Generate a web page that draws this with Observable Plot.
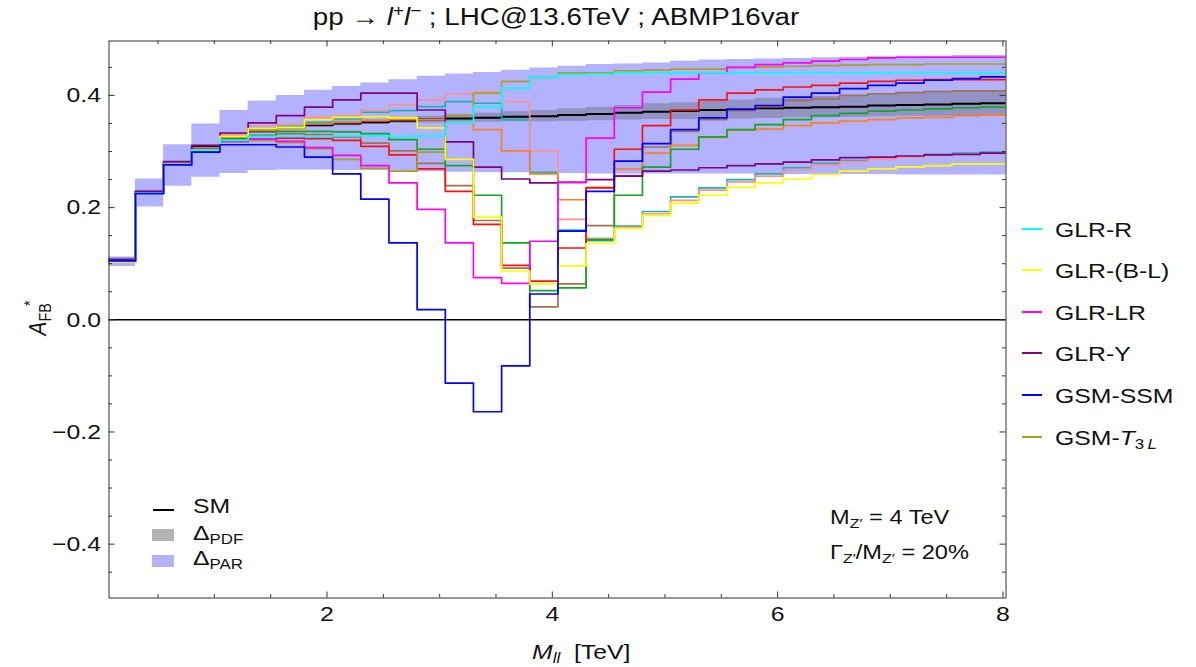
<!DOCTYPE html>
<html><head><meta charset="utf-8">
<script src="https://cdn.jsdelivr.net/npm/d3@7"></script>
<script src="https://cdn.jsdelivr.net/npm/@observablehq/plot@0.6"></script>
<style>
body{margin:0;background:#fff;}
#wrap{position:relative;width:1196px;height:667px;overflow:hidden;font-family:"Liberation Sans",Arial,sans-serif;color:#111;}
#wrap svg{position:absolute;left:0;top:0;}
.t{position:absolute;white-space:nowrap;line-height:1;font-size:21px;transform-origin:0 50%;transform:translateY(-50%) scaleX(1.18);}
.c{transform-origin:50% 50%;transform:translate(-50%,-50%) scaleX(1.18);}
.t sub{font-size:0.68em;vertical-align:-0.3em;line-height:0;}
.t sup{font-size:0.68em;vertical-align:0.55em;line-height:0;}
.sw{position:absolute;}
</style></head><body><div id="wrap"></div>
<script>
// ---- data ----
const binEdges = [0.05,0.30,0.55,0.80,1.05,1.30,1.55,1.80,2.05,2.30,2.55,2.80,3.05,3.30,3.55,3.80,4.05,4.30,4.55,4.80,5.05,5.30,5.55,5.80,6.05,6.30,6.55,6.80,7.05,7.30,7.55,7.80,8.05];
const sm      = [0.107,0.228,0.279,0.308,0.325,0.336,0.342,0.347,0.350,0.352,0.355,0.357,0.359,0.360,0.362,0.363,0.365,0.367,0.369,0.371,0.372,0.374,0.375,0.377,0.378,0.379,0.380,0.382,0.383,0.384,0.385,0.386];
const pdfHigh = [0.110,0.231,0.282,0.311,0.328,0.339,0.345,0.350,0.354,0.356,0.360,0.363,0.366,0.368,0.371,0.373,0.376,0.379,0.382,0.385,0.387,0.390,0.392,0.395,0.396,0.398,0.399,0.402,0.403,0.405,0.406,0.408];
const pdfLow  = [0.104,0.225,0.276,0.305,0.322,0.333,0.339,0.344,0.346,0.348,0.350,0.351,0.352,0.352,0.353,0.353,0.354,0.355,0.356,0.357,0.357,0.358,0.358,0.359,0.360,0.360,0.361,0.362,0.363,0.363,0.364,0.364];
const parHigh = [0.112,0.251,0.312,0.349,0.373,0.390,0.400,0.409,0.416,0.422,0.428,0.434,0.438,0.441,0.445,0.449,0.452,0.455,0.456,0.458,0.461,0.463,0.464,0.465,0.466,0.467,0.468,0.469,0.470,0.470,0.471,0.471];
const parLow  = [0.095,0.201,0.238,0.254,0.261,0.266,0.267,0.267,0.266,0.266,0.265,0.264,0.263,0.262,0.262,0.261,0.261,0.260,0.260,0.260,0.260,0.260,0.260,0.260,0.259,0.259,0.259,0.259,0.258,0.258,0.258,0.258];

const glrR   = [0.105,0.226,0.277,0.303,0.320,0.327,0.327,0.327,0.328,0.328,0.327,0.328,0.352,0.379,0.413,0.432,0.437,0.438,0.440,0.440,0.440,0.440,0.440,0.440,0.440,0.440,0.440,0.440,0.440,0.440,0.440,0.440];
const glrBL  = [0.103,0.225,0.277,0.303,0.327,0.341,0.343,0.357,0.361,0.362,0.360,0.342,0.286,0.183,0.087,0.064,0.096,0.136,0.163,0.186,0.208,0.222,0.236,0.244,0.251,0.259,0.265,0.269,0.272,0.275,0.278,0.278];
const glrLR  = [0.104,0.226,0.277,0.302,0.318,0.322,0.318,0.307,0.293,0.275,0.244,0.197,0.137,0.075,0.065,0.140,0.245,0.324,0.378,0.406,0.429,0.440,0.450,0.455,0.458,0.461,0.464,0.467,0.468,0.468,0.468,0.468];
const glrY   = [0.107,0.229,0.282,0.311,0.333,0.351,0.364,0.379,0.392,0.404,0.404,0.374,0.317,0.272,0.251,0.244,0.245,0.250,0.256,0.265,0.267,0.271,0.275,0.278,0.281,0.285,0.289,0.290,0.292,0.294,0.295,0.297];
const gsmSSM = [0.105,0.225,0.276,0.299,0.312,0.312,0.308,0.290,0.260,0.215,0.137,0.018,-0.113,-0.164,-0.082,0.046,0.158,0.229,0.283,0.314,0.339,0.360,0.375,0.382,0.397,0.404,0.412,0.418,0.422,0.427,0.430,0.433];
const gsmT3L = [0.103,0.225,0.276,0.300,0.317,0.320,0.316,0.305,0.286,0.270,0.265,0.299,0.364,0.404,0.425,0.432,0.440,0.440,0.444,0.445,0.447,0.447,0.450,0.451,0.452,0.453,0.454,0.455,0.455,0.456,0.456,0.456];
const redS   = [0.105,0.226,0.278,0.304,0.318,0.322,0.324,0.323,0.320,0.309,0.294,0.269,0.229,0.170,0.097,0.069,0.128,0.235,0.304,0.346,0.374,0.392,0.404,0.410,0.415,0.418,0.422,0.425,0.427,0.428,0.428,0.428];
const greenS = [0.105,0.226,0.278,0.304,0.323,0.329,0.336,0.336,0.335,0.332,0.321,0.304,0.275,0.222,0.137,0.052,0.057,0.143,0.222,0.272,0.304,0.326,0.339,0.348,0.357,0.364,0.368,0.372,0.374,0.376,0.378,0.379];
const orangeS= [0.106,0.227,0.279,0.306,0.326,0.337,0.341,0.349,0.352,0.355,0.357,0.357,0.352,0.339,0.301,0.260,0.214,0.236,0.269,0.297,0.311,0.325,0.338,0.340,0.346,0.351,0.354,0.357,0.360,0.361,0.364,0.365];
const brownS = [0.105,0.226,0.278,0.304,0.320,0.328,0.332,0.330,0.326,0.315,0.301,0.279,0.239,0.177,0.092,0.023,0.064,0.168,0.257,0.308,0.336,0.357,0.373,0.380,0.391,0.394,0.400,0.403,0.405,0.407,0.408,0.408];
const salmonS= [0.106,0.227,0.279,0.306,0.330,0.345,0.349,0.361,0.364,0.374,0.383,0.392,0.403,0.406,0.389,0.301,0.179,0.145,0.165,0.189,0.213,0.231,0.246,0.256,0.267,0.276,0.282,0.287,0.290,0.293,0.295,0.296];
const tealS  = [0.106,0.227,0.279,0.305,0.325,0.340,0.345,0.352,0.358,0.370,0.373,0.380,0.389,0.386,0.357,0.263,0.160,0.141,0.167,0.193,0.219,0.235,0.250,0.260,0.271,0.279,0.284,0.288,0.291,0.295,0.297,0.299];

const legendNames  = ["GLR-R","GLR-(B-L)","GLR-LR","GLR-Y","GSM-SSM","GSM-T3L"];
const legendHtml   = ["GLR-R","GLR-(B-L)","GLR-LR","GLR-Y","GSM-SSM","GSM-<i>T</i><sub>3&thinsp;<i>L</i></sub>"];
const legendColors = ["#00ffff","#ffff00","#ff00ff","#800080","#0000ff","#aaa020"];
const xMajorTicks = [2,4,6,8];
const yMajorTicks = [-0.4,-0.2,0.0,0.2,0.4];

const series = [
  {values: tealS,   color:"#1fb0b0"},
  {values: salmonS, color:"#ff9090"},
  {values: brownS,  color:"#a07050"},
  {values: orangeS, color:"#ff8020"},
  {values: greenS,  color:"#10a820"},
  {values: redS,    color:"#ff1010"},
  {values: gsmT3L,  color:legendColors[5]},
  {values: glrY,    color:legendColors[3]},
  {values: glrLR,   color:legendColors[2]},
  {values: glrBL,   color:legendColors[1]},
  {values: glrR,    color:legendColors[0]},
  {values: gsmSSM,  color:legendColors[4]}
];

// ---- helpers ----
const stepRows = vals => { const r = vals.map((v,i)=>({x:binEdges[i], y:v})); r.push({x:binEdges[vals.length], y:vals[vals.length-1]}); return r; };
const bandRows = (lo,hi) => { const r = lo.map((v,i)=>({x:binEdges[i], lo:v, hi:hi[i]})); r.push({x:binEdges[lo.length], lo:lo[lo.length-1], hi:hi[hi.length-1]}); return r; };

const W=1196, H=667, mL=108.5, mR=190.5, mT=40.5, mB=69.5;
const pw = W-mL-mR, ph = H-mT-mB;
const xMinor = d3.range(0.5, 8.01, 0.5).filter(v => !xMajorTicks.includes(v));
const yMinor = d3.range(-45, 46, 5).map(v=>v/100).filter(v => !yMajorTicks.some(t=>Math.abs(t-v)<1e-9));
const tk = "#333";

const plot = Plot.plot({
  width: W, height: H, marginLeft: mL, marginRight: mR, marginTop: mT, marginBottom: mB,
  x: {domain: [0.065, 8.027], label: null},
  y: {domain: [-0.496, 0.497], label: null},
  style: {fontFamily: "Liberation Sans, Arial, sans-serif", fontSize: "21px", color: "#111", background: "transparent", overflow: "visible"},
  marks: [
    Plot.areaY(bandRows(parLow, parHigh), {x:"x", y1:"lo", y2:"hi", curve:"step-after", fill:"#b2b2ff", clip:true}),
    Plot.areaY(bandRows(pdfLow, pdfHigh), {x:"x", y1:"lo", y2:"hi", curve:"step-after", fill:"#555", fillOpacity:0.35, clip:true}),
    Plot.ruleY([0], {stroke:"#000", strokeWidth:1.4}),
    Plot.line(stepRows(sm), {x:"x", y:"y", curve:"step-after", stroke:"#000", strokeWidth:2, clip:true}),
    ...series.map(s => Plot.line(stepRows(s.values), {x:"x", y:"y", curve:"step-after", stroke:s.color, strokeWidth:1.7, clip:true})),
    Plot.frame({stroke:"#333", strokeWidth:1}),
    Plot.tickX(xMinor, {x:d=>d, insetTop: ph-3.5, stroke:tk}),
    Plot.tickX(xMinor, {x:d=>d, insetBottom: ph-3.5, stroke:tk}),
    Plot.tickX(xMajorTicks, {x:d=>d, insetTop: ph-6, stroke:tk}),
    Plot.tickX(xMajorTicks, {x:d=>d, insetBottom: ph-6, stroke:tk}),
    Plot.tickY(yMinor, {y:d=>d, insetRight: pw-3.5, stroke:tk}),
    Plot.tickY(yMinor, {y:d=>d, insetLeft: pw-3.5, stroke:tk}),
    Plot.tickY(yMajorTicks, {y:d=>d, insetRight: pw-6, stroke:tk}),
    Plot.tickY(yMajorTicks, {y:d=>d, insetLeft: pw-6, stroke:tk}),
    Plot.axisX({ticks: xMajorTicks, tickSize: 0, tickPadding: 8, tickFormat: d => String(d), label: null}),
    Plot.axisY({ticks: yMajorTicks, tickSize: 0, tickPadding: 8, tickFormat: d3.format(".1f"), label: null})
  ]
});

// stretch tick labels horizontally like the reference (keep em-based offsets as dx/dy)
plot.querySelectorAll('g[aria-label$="tick label"] text').forEach(el => {
  let x = 0, y = 0;
  for (const [a, d] of [["x","dx"],["y","dy"]]) {
    const v = el.getAttribute(a);
    if (v == null) continue;
    if (/em$/.test(v)) {
      const prev = el.getAttribute(d);
      el.setAttribute(d, prev && prev !== "0" ? `calc(${prev} + ${v})` : v);
    } else if (a === "x") x = +v; else y = +v;
    el.removeAttribute(a);
  }
  const t = el.getAttribute("transform") || "";
  el.setAttribute("transform", `${t} translate(${x},${y}) scale(1.18,1)`);
});

const wrap = document.getElementById("wrap");
wrap.appendChild(plot);

function label(html, left, top, cls, extra) {
  const d = document.createElement("div");
  d.className = "t" + (cls ? " " + cls : "");
  d.innerHTML = html;
  d.style.left = left + "px"; d.style.top = top + "px";
  if (extra) Object.assign(d.style, extra);
  wrap.appendChild(d);
  return d;
}
function swatch(left, top, w, h, bg) {
  const d = document.createElement("div");
  d.className = "sw";
  Object.assign(d.style, {left: left+"px", top: top+"px", width: w+"px", height: h+"px", background: bg});
  wrap.appendChild(d);
}

// title
label("pp &rarr; <i>l</i><sup>+</sup><i>l</i><sup>&minus;</sup> ; LHC@13.6TeV ; ABMP16var", 556, 18, "c", {fontSize: "23.5px"});
// axis titles
label("<i>M</i><sub><i>ll</i></sub>&nbsp; [TeV]", 532, 651);
label("<i>A</i><sub>FB</sub><sup style='margin-left:-0.2em'>*</sup>", 37, 318, null,
      {transformOrigin: "50% 50%", transform: "translate(-50%,-50%) rotate(-90deg) scaleY(1.18)"});

// right legend
const legendY = [229, 270, 311.5, 353, 395, 436.5];
legendHtml.forEach((h, i) => {
  swatch(1022, legendY[i]-1, 20, 2, legendColors[i]);
  label(h, 1055, legendY[i]);
});

// lower-left legend
swatch(153, 509, 21, 2, "#000");
label("SM", 193, 505);
swatch(152, 529, 22, 12, "#b3b3b3");
label("&Delta;<sub>PDF</sub>", 193, 532);
swatch(152, 555, 22, 12, "#b2b2ff");
label("&Delta;<sub>PAR</sub>", 193, 557);

// annotation
label("M<sub>Z&prime;</sub> = 4 TeV", 830, 517, null, {fontSize: "20px"});
label("&Gamma;<sub>Z&prime;</sub>/M<sub>Z&prime;</sub> = 20%", 830, 552, null, {fontSize: "20px"});
</script>
</body></html>
